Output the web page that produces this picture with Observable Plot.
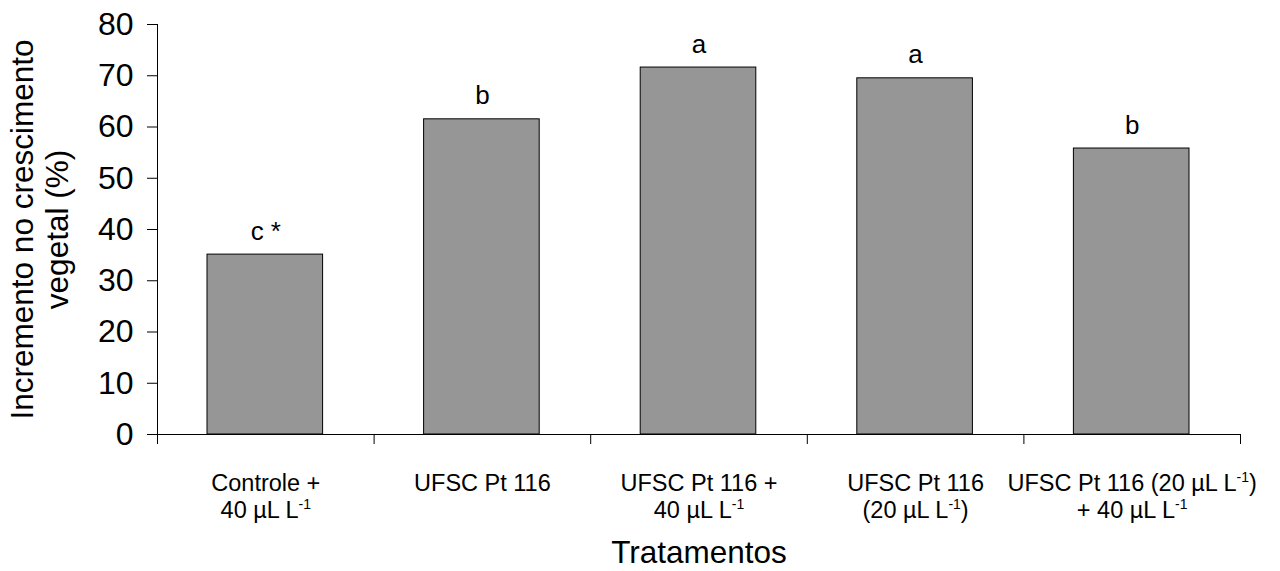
<!DOCTYPE html>
<html>
<head>
<meta charset="utf-8">
<script src="https://cdn.jsdelivr.net/npm/d3@7"></script>
<script src="https://cdn.jsdelivr.net/npm/@observablehq/plot@0.6"></script>
<style>
  html, body { margin: 0; padding: 0; background: #fff; }
  svg { font-family: "Liberation Sans", Arial, sans-serif; }
</style>
</head>
<body>
<div id="chart"></div>
<script>
const categories = [
  "Controle +\n40 µL L⁻¹",
  "UFSC Pt 116",
  "UFSC Pt 116 +\n40 µL L⁻¹",
  "UFSC Pt 116\n(20 µL L⁻¹)",
  "UFSC Pt 116 (20 µL L⁻¹)\n+ 40 µL L⁻¹"
];
const values = [35.1, 61.5, 71.6, 69.5, 55.8];
const letters = ["c *", "b", "a", "a", "b"];
const yTicks = [0, 10, 20, 30, 40, 50, 60, 70, 80];
const yLabel = "Incremento no crescimento\nvegetal (%)";
const xLabel = "Tratamentos";

const data = categories.map((c, i) => ({i, c, v: values[i], l: letters[i]}));
const bounds = d3.range(0, categories.length + 1);

const chart = Plot.plot({
  width: 1280,
  height: 571,
  marginLeft: 157,
  marginRight: 40,
  marginTop: 24,
  marginBottom: 137,
  style: {fontFamily: "Liberation Sans, Arial, sans-serif", background: "#fff", color: "#000"},
  x: {type: "linear", domain: [0, categories.length], axis: null},
  y: {type: "linear", domain: [0, 80], axis: null},
  marks: [
    Plot.rectY(data, {x1: d => d.i, x2: d => d.i + 1, y1: 0, y2: "v", fill: "#969696", stroke: "#000", strokeWidth: 1, insetLeft: 50, insetRight: 51}),
    Plot.ruleX([0], {stroke: "#000"}),
    Plot.ruleY([0], {stroke: "#000"}),
    Plot.axisY({ticks: yTicks, tickSize: 10, tickPadding: 14, fontSize: 32, label: null, stroke: "#000"}),
    Plot.ruleX(bounds, {x: d => d, y1: 0, y2: 0, insetBottom: -10, stroke: "#000"}),
    Plot.text(data, {x: d => d.i + 0.5, y: 0, text: "c", dy: 38, lineAnchor: "top", fontSize: 23.5, lineHeight: 1.13, fill: "#000"}),
    Plot.text(data, {x: d => d.i + 0.5, y: "v", text: "l", dy: -15, lineAnchor: "bottom", fontSize: 26, fill: "#000"}),
    Plot.text([yLabel], {frameAnchor: "left", rotate: -90, dx: -118, fontSize: 31.5, lineHeight: 1.1, textAnchor: "middle", lineAnchor: "middle", fill: "#000"}),
    Plot.text([xLabel], {frameAnchor: "bottom", dy: 128, fontSize: 31.5, lineAnchor: "bottom", fill: "#000"})
  ]
});

const NS = "http://www.w3.org/2000/svg";
// superscripts for "⁻¹"
chart.querySelectorAll("text, tspan").forEach(el => {
  if (el.children.length === 0 && el.textContent.includes("⁻¹")) {
    const parts = el.textContent.split("⁻¹");
    el.textContent = "";
    parts.forEach((p, k) => {
      if (p) {
        const t = document.createElementNS(NS, "tspan");
        t.textContent = p;
        if (k > 0) t.setAttribute("dy", "9");
        el.appendChild(t);
      }
      if (k < parts.length - 1) {
        const s = document.createElementNS(NS, "tspan");
        s.textContent = "-1";
        s.setAttribute("dy", "-9");
        s.setAttribute("font-size", "14");
        el.appendChild(s);
      }
    });
  }
});

document.getElementById("chart").appendChild(chart);
</script>
</body>
</html>
